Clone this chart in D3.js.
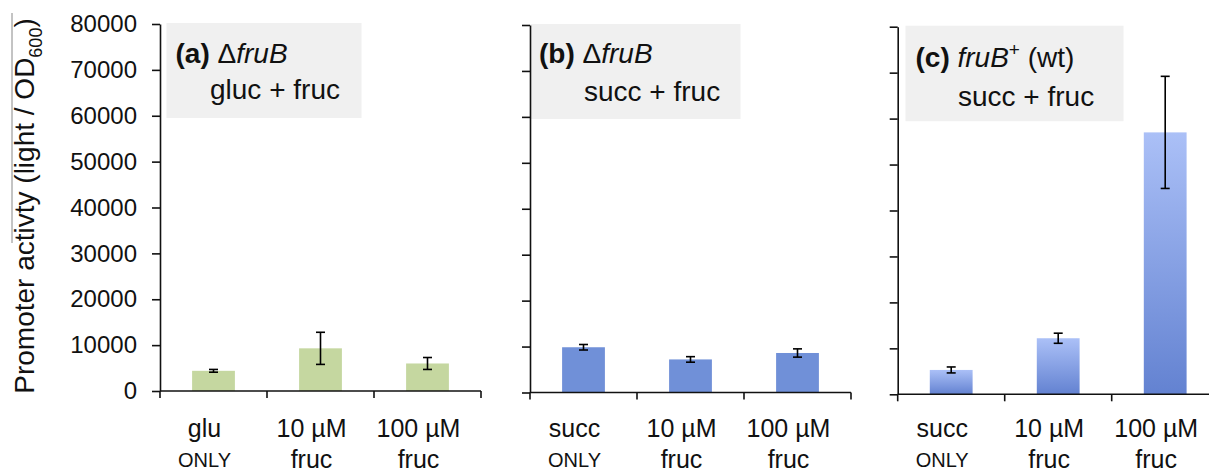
<!DOCTYPE html>
<html>
<head>
<meta charset="utf-8">
<script src="https://cdn.jsdelivr.net/npm/d3@7"></script>
<style>
  body { margin: 0; background: #fff; }
  svg { display: block; font-family: "Liberation Sans", Arial, sans-serif; }
</style>
</head>
<body>
<svg id="chart" width="1209" height="473"></svg>
<script>
// data
var categoriesA = ['glu|ONLY', '10 µM|fruc', '100 µM|fruc'];
var categoriesB = ['succ|ONLY', '10 µM|fruc', '100 µM|fruc'];
var categoriesC = ['succ|ONLY', '10 µM|fruc', '100 µM|fruc'];

var valuesA = [4400, 9300, 6000];
var errorsA = [300, 3500, 1300];
var valuesB = [9850, 7200, 8600];
var errorsB = [600, 600, 900];
var valuesC = [5300, 12200, 57000];
var errorsC = [650, 1100, 12200];

var yTicks = [0, 10000, 20000, 30000, 40000, 50000, 60000, 70000, 80000];
var yTitle = 'Promoter activty (light / OD';

var svg = d3.select('#chart');

var defs = svg.append('defs');
var grad = defs.append('linearGradient')
  .attr('id', 'blueGrad')
  .attr('x1', 0).attr('y1', 0).attr('x2', 0).attr('y2', 1);
grad.append('stop').attr('offset', '0%').attr('stop-color', '#abc0f7');
grad.append('stop').attr('offset', '100%').attr('stop-color', '#6382d1');

// panel layout (pixels)
var panels = [
  { cats: categoriesA, vals: valuesA, errs: errorsA, x0: 160, top: 24, zero: 391, fill: '#c5d7a0', labels: true,
    box: [166.5, 195, 95], title: { x: 175.5, y1: 63, x2: 210, y2: 99, parts: [['(a) ', 'bold'], ['Δ', 'normal'], ['fruB', 'italic']], line2: 'gluc + fruc' } },
  { cats: categoriesB, vals: valuesB, errs: errorsB, x0: 530, top: 25, zero: 392.5, fill: '#7090d8', labels: false,
    box: [530.5, 210, 95], title: { x: 539, y1: 63, x2: 584, y2: 101, parts: [['(b) ', 'bold'], ['Δ', 'normal'], ['fruB', 'italic']], line2: 'succ + fruc' } },
  { cats: categoriesC, vals: valuesC, errs: errorsC, x0: 897.7, top: 26.7, zero: 394.3, fill: 'url(#blueGrad)', labels: false,
    box: [905.5, 218, 95.5], title: { x: 915.5, y1: 66.5, x2: 958, y2: 106, parts: [['(c) ', 'bold'], ['fruB', 'italic'], ['+', 'sup'], [' (wt)', 'normal']], line2: 'succ + fruc' } }
];

var step = 107;

panels.forEach(function(p) {
  var g = svg.append('g');

  var x = d3.scaleBand()
    .domain(p.cats)
    .range([p.x0, p.x0 + step * p.cats.length])
    .paddingInner(0.6)
    .paddingOuter(0.3);

  var y = d3.scaleLinear()
    .domain([0, 80000])
    .range([p.zero, p.top]);

  // title box
  g.append('rect')
    .attr('x', p.box[0])
    .attr('y', y(80000) - 1)
    .attr('width', p.box[1])
    .attr('height', p.box[2])
    .attr('fill', '#f0f0f0');

  var t1 = g.append('text')
    .attr('x', p.title.x)
    .attr('y', p.title.y1)
    .attr('font-size', 28)
    .attr('fill', '#111');
  p.title.parts.forEach(function(part) {
    var ts = t1.append('tspan').text(part[0]);
    if (part[1] === 'bold') ts.attr('font-weight', 'bold');
    if (part[1] === 'italic') ts.attr('font-style', 'italic');
    if (part[1] === 'sup') ts.attr('font-size', 19).attr('dy', -11);
    if (part[1] === 'normal' && part[0].charAt(0) === ' ') ts.attr('dy', 11);
  });

  g.append('text')
    .attr('x', p.title.x2)
    .attr('y', p.title.y2)
    .attr('font-size', 28)
    .attr('fill', '#111')
    .text(p.title.line2);

  // bars
  g.selectAll('.bar')
    .data(p.vals)
    .enter()
    .append('rect')
    .attr('class', 'bar')
    .attr('x', function(d, i) { return x(p.cats[i]); })
    .attr('y', function(d) { return y(d); })
    .attr('width', x.bandwidth())
    .attr('height', function(d) { return y(0) - y(d); })
    .attr('fill', p.fill);

  // error bars
  var eb = g.selectAll('.err')
    .data(p.vals)
    .enter()
    .append('g')
    .attr('class', 'err')
    .attr('stroke', '#000')
    .attr('stroke-width', 1.6);
  eb.append('line')
    .attr('x1', function(d, i) { return x(p.cats[i]) + x.bandwidth() / 2; })
    .attr('x2', function(d, i) { return x(p.cats[i]) + x.bandwidth() / 2; })
    .attr('y1', function(d, i) { return y(d + p.errs[i]); })
    .attr('y2', function(d, i) { return y(d - p.errs[i]); });
  [1, -1].forEach(function(sgn) {
    eb.append('line')
      .attr('x1', function(d, i) { return x(p.cats[i]) + x.bandwidth() / 2 - 4.5; })
      .attr('x2', function(d, i) { return x(p.cats[i]) + x.bandwidth() / 2 + 4.5; })
      .attr('y1', function(d, i) { return y(d + sgn * p.errs[i]); })
      .attr('y2', function(d, i) { return y(d + sgn * p.errs[i]); });
  });

  // y axis
  var yAxis = d3.axisLeft(y)
    .tickValues(yTicks)
    .tickSize(8)
    .tickSizeOuter(0)
    .tickPadding(15)
    .tickFormat(p.labels ? d3.format('d') : function() { return ''; });
  var ya = g.append('g')
    .attr('transform', 'translate(' + p.x0 + ',0)')
    .call(yAxis);
  ya.selectAll('path, line').attr('stroke', '#111').attr('stroke-width', 1.6);
  ya.selectAll('text')
    .attr('font-size', 24)
    .attr('fill', '#111')
    .attr('font-family', '"Liberation Sans", Arial, sans-serif');

  // x axis: baseline with ticks at category boundaries
  var x1 = p.x0 + step * p.cats.length;
  g.append('line')
    .attr('x1', p.x0).attr('x2', x1)
    .attr('y1', y(0)).attr('y2', y(0))
    .attr('stroke', '#111').attr('stroke-width', 1.6);
  d3.range(p.cats.length + 1).forEach(function(i) {
    var bx = p.x0 + step * i;
    g.append('line')
      .attr('x1', bx).attr('x2', bx)
      .attr('y1', y(0)).attr('y2', y(0) + 7)
      .attr('stroke', '#111').attr('stroke-width', 1.6);
  });

  // category labels
  p.cats.forEach(function(c) {
    var parts = c.split('|');
    var cx = x(c) + x.bandwidth() / 2 - 9;
    g.append('text')
      .attr('x', cx).attr('y', 437)
      .attr('text-anchor', 'middle')
      .attr('font-size', 25)
      .attr('fill', '#111')
      .text(parts[0]);
    var small = parts[1] === 'ONLY';
    g.append('text')
      .attr('x', cx).attr('y', small ? 467 : 468)
      .attr('text-anchor', 'middle')
      .attr('font-size', small ? 20 : 25)
      .attr('fill', '#111')
      .text(parts[1]);
  });
});

// y axis title
var yt = svg.append('text')
  .attr('transform', 'translate(33.5,206) rotate(-90)')
  .attr('text-anchor', 'middle')
  .attr('font-size', 28)
  .attr('fill', '#111');
yt.append('tspan').text(yTitle);
yt.append('tspan').attr('font-size', 18).attr('dy', 8).text('600');
yt.append('tspan').attr('dy', -8).text(')');

// stray rule beside the title in the source image
svg.append('line')
  .attr('x1', 12).attr('x2', 12)
  .attr('y1', 13).attr('y2', 243)
  .attr('stroke', '#888').attr('stroke-width', 1);
</script>
</body>
</html>
